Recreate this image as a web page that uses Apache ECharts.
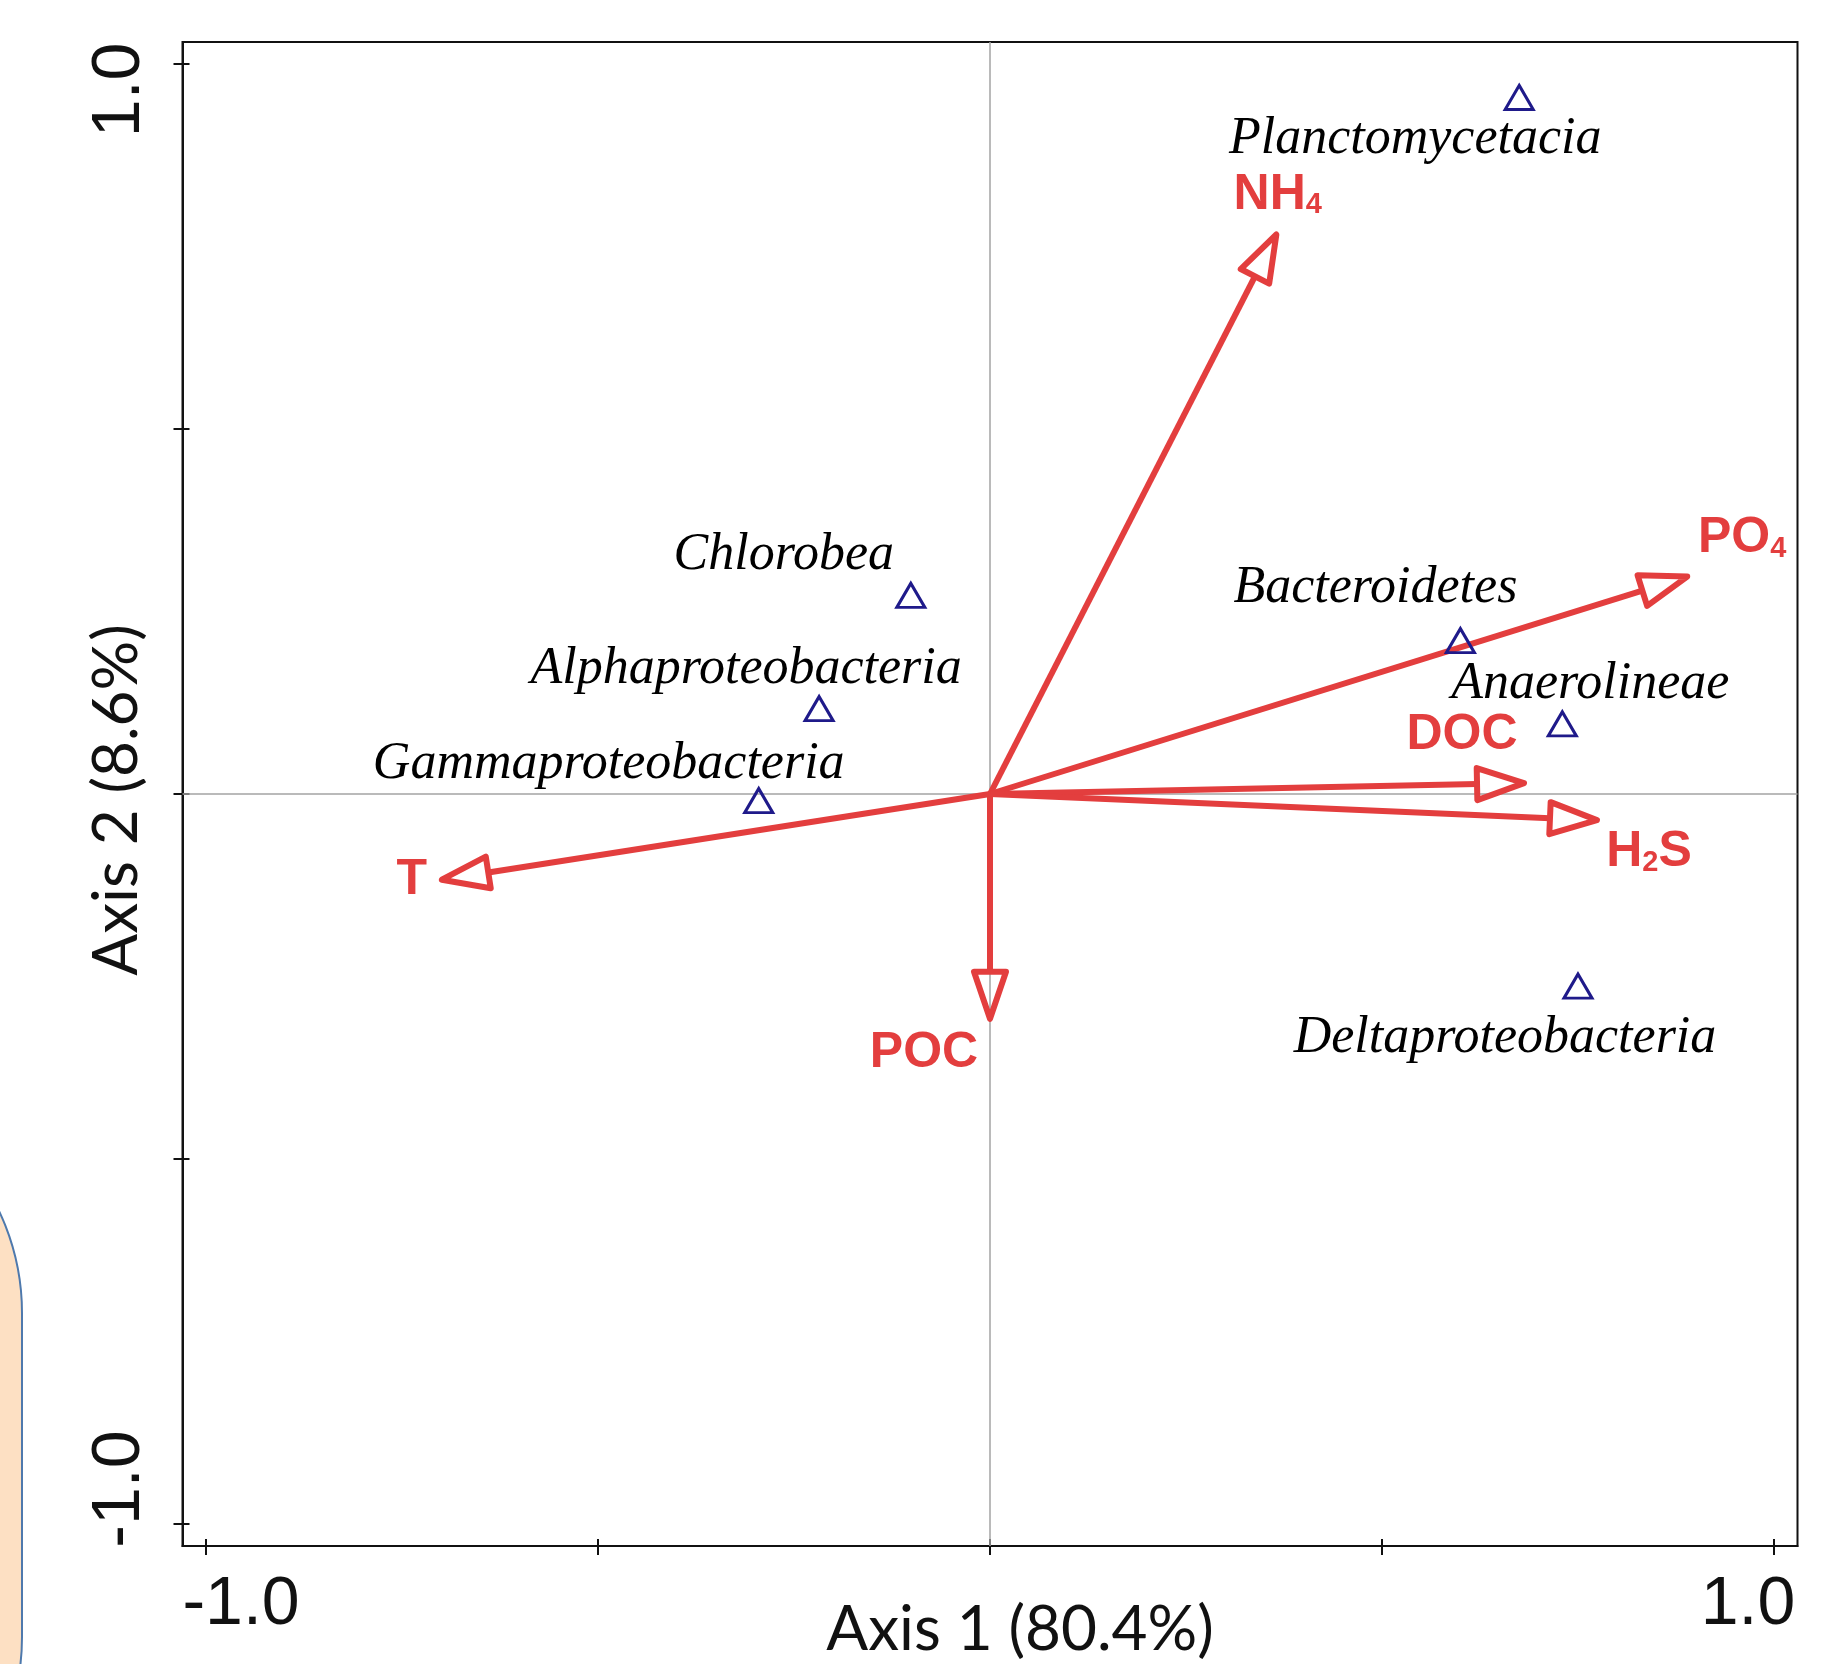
<!DOCTYPE html>
<html>
<head>
<meta charset="utf-8">
<script src="https://cdn.jsdelivr.net/npm/echarts@6/dist/echarts.min.js"></script>
<style>
  html, body { margin: 0; padding: 0; background: #fff; }
  #chart { width: 1846px; height: 1664px; }
</style>
</head>
<body>
<div id="chart"></div>
<script>
// taxa scores (blue triangles)
var taxa = ['Planctomycetacia', 'Chlorobea', 'Alphaproteobacteria', 'Gammaproteobacteria',
  'Bacteroidetes', 'Anaerolineae', 'Deltaproteobacteria'];
var taxaX = [0.675, -0.101, -0.218, -0.295, 0.600, 0.730, 0.750];
var taxaY = [0.954, 0.272, 0.117, -0.009, 0.210, 0.096, -0.263];

// environmental vectors (red arrows)
var envVars = ['NH4', 'PO4', 'DOC', 'H2S', 'T', 'POC'];
var envX = [0.367, 0.893, 0.685, 0.778, -0.703, 0.0];
var envY = [0.770, 0.299, 0.015, -0.036, -0.118, -0.312];

var tickValues = [-1, -0.5, 0, 0.5, 1];
var labelValues = [-1, 1];
var axis1Name = 'Axis 1 (80.4%)';
var axis2Name = 'Axis 2 (8.6%)';

// where the labels sit, in px from their point
var taxaLabelOffset = [[-104, 42], [-127, -40], [-73, -39], [-150, -36], [-85, -52], [28, -40], [-73, 52]];
var envLabelOffset = [[0, -37], [52, -37], [-65, -48], [49, 32], [-27, 0], [-66, 31]];

var RED = '#e33e3e';
var NAVY = '#1f1a8a';
var INK = '#111';
var HEAD_LEN = 47, HEAD_HALF = 16, TIP_INSET = 3;

var envRich = {
  b: {fontFamily: 'Liberation Sans', fontWeight: 'bold', fontSize: 50, fill: RED},
  s: {fontFamily: 'Liberation Sans', fontWeight: 'bold', fontSize: 29, lineHeight: 36, verticalAlign: 'bottom', fill: RED}
};

function richName(name) {
  return name.split(/(\d)/).filter(function (p) { return p; }).map(function (p) {
    return /\d/.test(p) ? '{s|' + p + '}' : '{b|' + p + '}';
  }).join('');
}

function renderArrow(params, api) {
  var o = api.coord([0, 0]);
  var p = api.coord([api.value(0), api.value(1)]);
  var dx = p[0] - o[0], dy = p[1] - o[1];
  var len = Math.sqrt(dx * dx + dy * dy);
  var ux = dx / len, uy = dy / len;
  var tip = [p[0] - ux * TIP_INSET, p[1] - uy * TIP_INSET];
  var base = [p[0] - ux * (TIP_INSET + HEAD_LEN), p[1] - uy * (TIP_INSET + HEAD_LEN)];
  var off = envLabelOffset[params.dataIndex];
  return {
    type: 'group',
    children: [
      {type: 'line', z2: 10, shape: {x1: o[0], y1: o[1], x2: base[0], y2: base[1]},
        style: {stroke: RED, lineWidth: 6}},
      {type: 'polygon', z2: 10, shape: {points: [tip,
          [base[0] - uy * HEAD_HALF, base[1] + ux * HEAD_HALF],
          [base[0] + uy * HEAD_HALF, base[1] - ux * HEAD_HALF]]},
        style: {fill: 'none', stroke: RED, lineWidth: 6, lineJoin: 'round'}},
      {type: 'text', z2: 10, x: p[0] + off[0], y: p[1] + off[1],
        style: {text: richName(envVars[params.dataIndex]), align: 'center', verticalAlign: 'middle', rich: envRich}}
    ]
  };
}

var tickLabelRich = {
  neg: {fontFamily: 'Liberation Sans', fontSize: 68, color: INK, padding: [0, 0, 0, 70]},
  pos: {fontFamily: 'Liberation Sans', fontSize: 68, color: INK, padding: [0, 52, 0, 0]}
};
function tickLabel(v) {
  return v < 0 ? '{neg|-1.0}' : '{pos|1.0}';
}
var nameStyle = {fontFamily: 'Lato', fontSize: 62, color: INK};

function mainAxis(pos, name, nameGap, namePad, rotate) {
  return {
    type: 'value', position: pos, min: -1.03, max: 1.03,
    axisLine: {show: true, onZero: false, lineStyle: {color: INK, width: 2}},
    axisTick: {show: true, customValues: tickValues, length: 9, lineStyle: {color: INK, width: 2}},
    axisLabel: {show: true, customValues: labelValues, rotate: rotate, margin: pos === 'left' ? 28 : 25,
      formatter: tickLabel, rich: tickLabelRich},
    splitLine: {show: false},
    name: name, nameLocation: 'middle', nameGap: nameGap, nameMoveOverlap: false,
    nameTextStyle: Object.assign({padding: namePad}, nameStyle)
  };
}
function innerTicks(pos) {
  return {
    type: 'value', position: pos, min: -1.03, max: 1.03,
    axisLine: {show: false, onZero: false},
    axisTick: {show: true, inside: true, customValues: tickValues, length: 7, lineStyle: {color: INK, width: 2}},
    axisLabel: {show: false},
    splitLine: {show: false}
  };
}

var chart = echarts.init(document.getElementById('chart'));
chart.setOption({
  animation: false,
  backgroundColor: '#fff',
  grid: {left: 182.5, top: 42, right: 48.5, bottom: 118, show: true, borderColor: INK, borderWidth: 2,
    backgroundColor: 'transparent', containLabel: false, outerBoundsMode: 'none'},
  graphic: [{
    type: 'rect', z: 0, silent: true,
    shape: {x: -578, y: 1075, width: 600, height: 800, r: 238},
    style: {fill: '#fde0c3', stroke: '#4e79ad', lineWidth: 2}
  }],
  xAxis: [mainAxis('bottom', axis1Name, 53, [0, 0, 0, 60], 0), innerTicks('bottom')],
  yAxis: [mainAxis('left', axis2Name, 35, [0, 12, 0, 0], 90), innerTicks('left')],
  series: [{
    type: 'custom',
    name: 'env',
    coordinateSystem: 'cartesian2d',
    renderItem: renderArrow,
    data: envX.map(function (x, i) { return [x, envY[i]]; }),
    encode: {x: 0, y: 1},
    silent: true,
    z: 3,
    markLine: {
      z: 1, silent: true, symbol: ['none', 'none'], label: {show: false},
      lineStyle: {color: '#a3a3a3', width: 1.5, type: 'solid', opacity: 1},
      emphasis: {disabled: true},
      data: [{xAxis: 0}, {yAxis: 0}]
    }
  }, {
    type: 'scatter',
    name: 'taxa',
    z: 4,
    silent: true,
    symbol: 'triangle',
    symbolSize: [28, 24],
    itemStyle: {color: 'rgba(0,0,0,0)', borderColor: NAVY, borderWidth: 3, opacity: 1},
    label: {show: true, position: 'inside', formatter: '{b}', fontFamily: 'Liberation Serif',
      fontStyle: 'italic', fontSize: 52, color: '#000', opacity: 1, textBorderWidth: 0},
    emphasis: {disabled: true},
    data: taxa.map(function (n, i) {
      return {name: n, value: [taxaX[i], taxaY[i]], label: {offset: taxaLabelOffset[i]}};
    })
  }]
});
</script>
</body>
</html>
